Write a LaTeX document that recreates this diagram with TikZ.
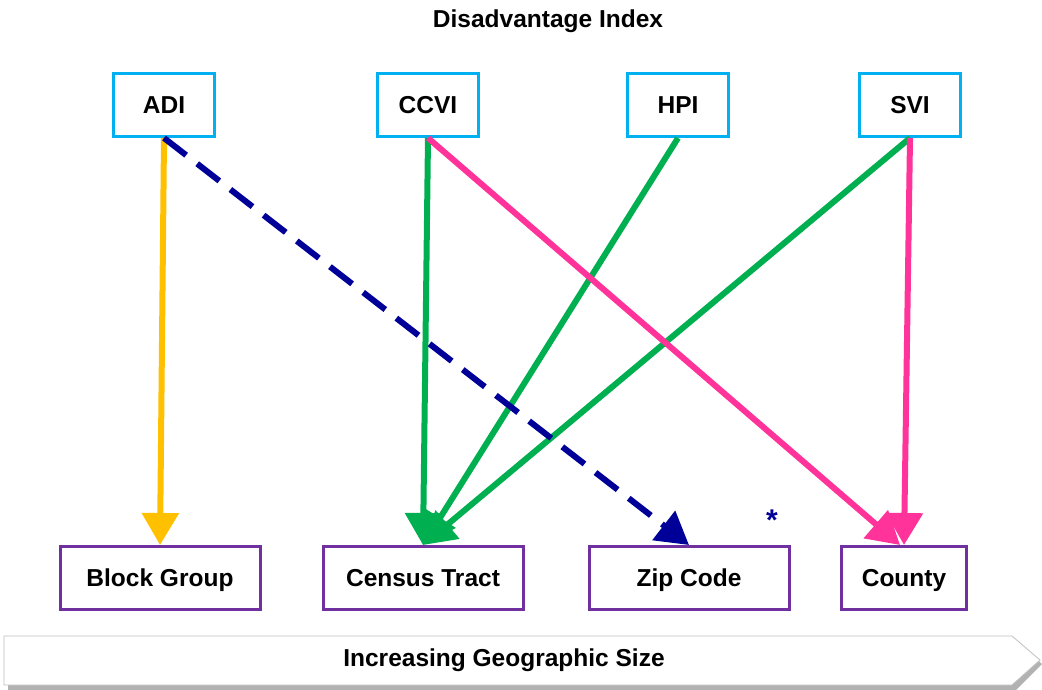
\documentclass[tikz,border=0pt]{standalone}
\usepackage{fontspec}
\setmainfont{Liberation Sans}
\usetikzlibrary{arrows.meta}
\definecolor{topc}{HTML}{00B0F0}
\definecolor{botc}{HTML}{7030A0}
\definecolor{orng}{HTML}{FFC000}
\definecolor{grn}{HTML}{00B050}
\definecolor{pnk}{HTML}{FF3399}
\definecolor{navy}{HTML}{000099}
\begin{document}
\begin{tikzpicture}[x=1pt,y=-1pt,
  lbl/.style={font=\fontsize{24.5}{28}\selectfont\bfseries,text height=17.5pt,text depth=1pt},
  topbox/.style={lbl,draw=topc,line width=3pt,minimum width=101pt,minimum height=63pt,inner sep=0pt},
  botbox/.style={lbl,draw=botc,line width=3pt,minimum width=200pt,minimum height=63pt,inner sep=0pt},
  conn/.style={line width=6pt,-{Triangle[width=36pt,length=32pt]}},
]
\useasboundingbox (0,0) rectangle (1042,690);
\node[lbl] (title) at (548,19) {Disadvantage Index};
\node[topbox] (adi) at (164,105) {ADI};
\node[topbox] (ccvi) at (428,105) {CCVI};
\node[topbox] (hpi) at (678,105) {HPI};
\node[topbox] (svi) at (910,105) {SVI};
\node[botbox] (bg) at (160,578) {Block Group};
\node[botbox] (ct) at (423,578) {Census Tract};
\node[botbox] (zc) at (689,578) {Zip Code};
\node[botbox,minimum width=125pt] (co) at (904,578) {County};
% bottom arrow bar
\fill[gray!60] (8,640) -- (1016,640) -- (1042,664) -- (1016,690) -- (8,690) -- cycle;
\draw[gray!50,line width=0.8pt,fill=white] (4,636) -- (1012,636) -- (1040,660) -- (1012,685) -- (4,685) -- cycle;
\node[lbl] (igs) at (504,658) {Increasing Geographic Size};
% connectors
\coordinate (adis) at (164,138);
\coordinate (ccvis) at (428,138);
\coordinate (hpis) at (678,138);
\coordinate (svis) at (910,138);
\draw[conn,orng] (adis) -- (bg.north);
\draw[conn,grn] (ccvis) -- (ct.north);
\draw[conn,grn] (hpis) -- (ct.north);
\draw[conn,grn] (svis) -- (ct.north);
\draw[conn,pnk] (ccvis) -- (co.north -| 900,0);
\draw[conn,pnk] (svis) -- (co.north);
\draw[conn,navy,dash pattern=on 28pt off 14pt] (adis) -- (zc.north);
\node[text=navy,font=\fontsize{30}{32}\selectfont\bfseries] (ast) at (772,520) {*};
\end{tikzpicture}
\end{document}
